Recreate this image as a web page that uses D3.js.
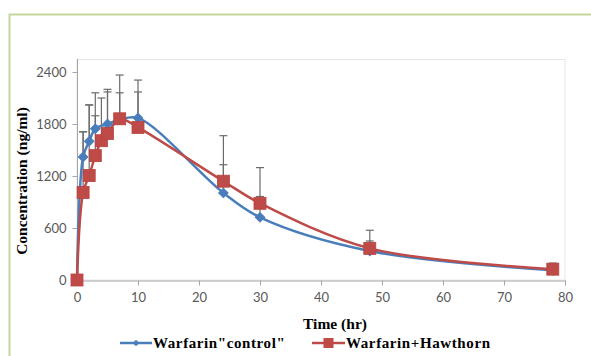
<!DOCTYPE html>
<html><head><meta charset="utf-8">
<script src="https://cdn.jsdelivr.net/npm/d3@7"></script>
<style>body{margin:0;background:#fff}svg{display:block}</style>
</head><body><div id="chart"></div>
<script>
const timesCtrl = [0,1,2,3,5,7,10,24,30,48,78];
const ctrlMean  = [0,1420,1600,1745,1800,1850,1870,1005,723,335,112];
const ctrlSD    = [0,290,420,150,400,310,437,325,240,115,60];
const timesHaw  = [0,1,2,3,4,5,7,10,24,30,48,78];
const hawMean   = [0,1010,1205,1435,1607,1690,1860,1760,1140,885,365,125];
const hawSD     = [0,700,815,725,493,480,505,410,525,412,209,70];
const xTicks = [0,10,20,30,40,50,60,70,80];
const yTicks = [0,600,1200,1800,2400];
const seriesNames = ['Warfarin"control"','Warfarin+Hawthorn'];

const W=591,H=356;
const svg=d3.select('#chart').append('svg').attr('width',W).attr('height',H);
svg.append('path').attr('d',`M9.5,${H} V14.5 H${W}`).attr('fill','none').attr('stroke','#c3d69b').attr('stroke-width',2);

const x=d3.scaleLinear().domain([0,80]).range([77,565]);
const y=d3.scaleLinear().domain([0,2400]).range([280,72]);

svg.append('rect').attr('x',77).attr('y',59.5).attr('width',488).attr('height',220.5)
  .attr('fill','none').attr('stroke','#e6e6e6').attr('stroke-width',1);

const xAx=svg.append('g').attr('transform','translate(0,280.5)')
  .call(d3.axisBottom(x).tickValues(xTicks).tickFormat(d3.format('d')).tickSize(5).tickPadding(7));
const yAx=svg.append('g').attr('transform','translate(77.5,0)')
  .call(d3.axisLeft(y).tickValues(yTicks).tickFormat(d3.format('d')).tickSize(5).tickPadding(6));
[xAx,yAx].forEach(g=>{
  g.select('.domain').attr('stroke','#a6a6a6');
  g.selectAll('.tick line').attr('stroke','#a6a6a6');
  g.selectAll('.tick text').attr('fill','#595959').style('font-family','Lato, "Open Sans", sans-serif').style('font-size','13px');
});
yAx.select('.domain').attr('d','M0,59V280');

const serif='"Liberation Serif","Times New Roman",serif';
svg.append('text').attr('transform','translate(27,181) rotate(-90)').attr('text-anchor','middle')
  .style('font-family',serif).style('font-weight','bold').style('font-size','15.5px').text('Concentration (ng/ml)');
svg.append('text').attr('x',335).attr('y',329).attr('text-anchor','middle')
  .style('font-family',serif).style('font-weight','bold').style('font-size','15.5px').text('Time (hr)');

const blue='#4a7ebb', red='#be4b48';
const mk=(t,m,s)=>t.map((v,i)=>({t:v,m:m[i],s:s[i]}));
const dCtrl=mk(timesCtrl,ctrlMean,ctrlSD), dHaw=mk(timesHaw,hawMean,hawSD);

function errBars(data){
  const g=svg.append('g').attr('stroke','#6b6b6b').attr('stroke-width',1.2);
  data.filter(d=>d.s>0).forEach(d=>{
    const cx=x(d.t), y0=y(d.m), y1=y(d.m+d.s);
    g.append('line').attr('x1',cx).attr('x2',cx).attr('y1',y0).attr('y2',y1);
    g.append('line').attr('x1',cx-4).attr('x2',cx+4).attr('y1',y1).attr('y2',y1);
  });
}
errBars(dCtrl); errBars(dHaw);

const line=d3.line().x(d=>x(d.t)).y(d=>y(d.m)).curve(d3.curveCatmullRom.alpha(0.5));
svg.append('path').datum(dCtrl).attr('d',line).attr('fill','none').attr('stroke',blue).attr('stroke-width',2.5);
svg.append('path').datum(dHaw).attr('d',line).attr('fill','none').attr('stroke',red).attr('stroke-width',2.5);

svg.append('g').selectAll('path').data(dCtrl).join('path')
  .attr('d',d3.symbol().type(d3.symbolSquare).size(45))
  .attr('transform',d=>`translate(${x(d.t)},${y(d.m)}) rotate(45)`).attr('fill',blue).attr('stroke',blue);
svg.append('g').selectAll('rect').data(dHaw).join('rect')
  .attr('x',d=>x(d.t)-6).attr('y',d=>y(d.m)-6).attr('width',12).attr('height',12)
  .attr('fill',red).attr('stroke','#b8423f').attr('stroke-width',0.8);

const lg=svg.append('g');
lg.append('line').attr('x1',120).attr('x2',152).attr('y1',343).attr('y2',343).attr('stroke',blue).attr('stroke-width',2.5);
lg.append('path').attr('d',d3.symbol().type(d3.symbolSquare).size(22)).attr('transform','translate(136,343) rotate(45)').attr('fill',blue);
lg.append('text').attr('x',153).attr('y',348).style('font-family',serif).style('font-weight','bold').style('font-size','15px').style('letter-spacing','0.6px').text(seriesNames[0]);
lg.append('line').attr('x1',312).attr('x2',345).attr('y1',343).attr('y2',343).attr('stroke',red).attr('stroke-width',2.5);
lg.append('rect').attr('x',323.5).attr('y',338).attr('width',10).attr('height',10).attr('fill',red);
lg.append('text').attr('x',346).attr('y',348).style('font-family',serif).style('font-weight','bold').style('font-size','15px').style('letter-spacing','0.6px').text(seriesNames[1]);
</script></body></html>
